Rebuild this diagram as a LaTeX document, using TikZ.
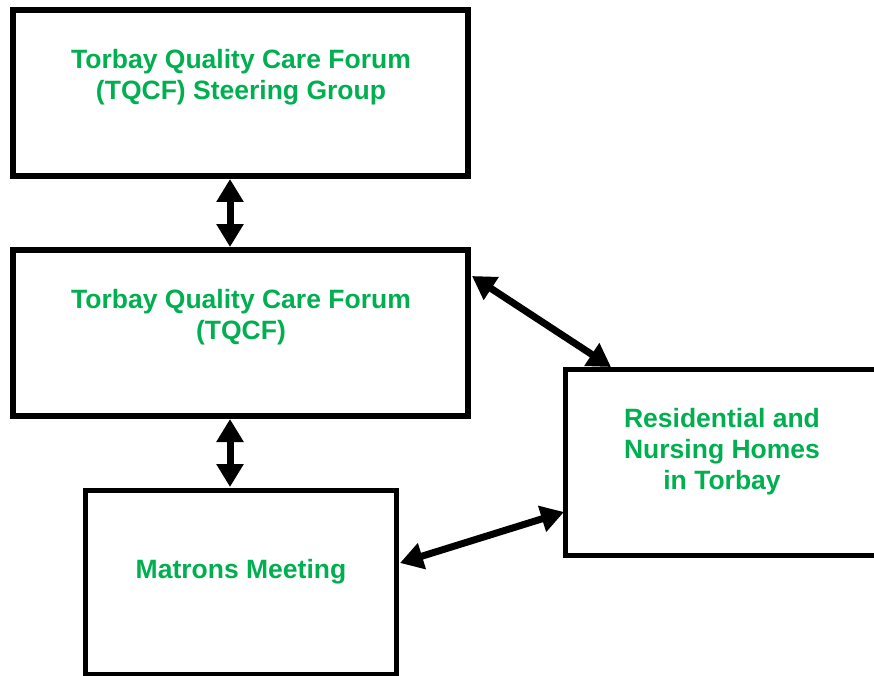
\documentclass[tikz,border=0pt]{standalone}
\usepackage{fontspec}
\setmainfont{Liberation Sans}
\usetikzlibrary{arrows.meta}
\definecolor{tgreen}{HTML}{00B050}
\tikzset{
  box/.style={draw=black, line width=5.5pt, fill=white, inner sep=0pt},
  lbl/.style={text=tgreen, font=\fontsize{26.5}{31}\selectfont\bfseries, align=center, inner sep=0pt},
  dbl/.style={line width=7pt, {Triangle[length=23pt,width=26pt]}-{Triangle[length=23pt,width=26pt]}}
}
\begin{document}
\begin{tikzpicture}[x=1pt,y=-1pt]
\useasboundingbox (0,0) rectangle (874,676);
\fill[white] (0,0) rectangle (874,676);
\begin{scope}
\clip (0,0) rectangle (874,676);
% boxes
\node[box, minimum width=455pt, minimum height=166pt] (b1) at (240.5,93) {};
\node[box, minimum width=455pt, minimum height=166pt] (b2) at (240.5,333) {};
\node[box, minimum width=311pt, minimum height=184pt] (b3) at (241,582.5) {};
\node[box, minimum width=314.5pt, minimum height=186pt] (b4) at (722.75,462.5) {};
\end{scope}
% texts
\node[lbl] (t1) at (241,77) {Torbay Quality Care Forum\\(TQCF) Steering Group};
\node[lbl] (t2) at (241,317) {Torbay Quality Care Forum\\(TQCF)};
\node[lbl] (t3) at (241,572) {Matrons Meeting};
\node[lbl] (t4) at (722,452) {Residential and\\Nursing Homes\\in Torbay};
% connectors
\coordinate (a1) at (230,179);
\coordinate (a2) at (230,247);
\coordinate (a3) at (230,419);
\coordinate (a4) at (230,487);
\coordinate (a5) at (472,276);
\coordinate (a6) at (611,367);
\coordinate (a7) at (400,563);
\coordinate (a8) at (564,512);
\draw[dbl] (a1) -- (a2);
\draw[dbl] (a3) -- (a4);
\draw[dbl] (a5) -- (a6);
\draw[dbl] (a7) -- (a8);
\end{tikzpicture}
\end{document}
